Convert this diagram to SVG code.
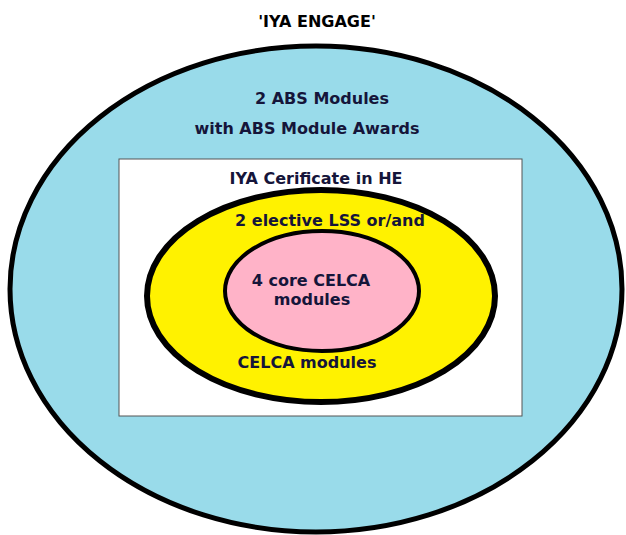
<svg xmlns="http://www.w3.org/2000/svg" width="626" height="535" viewBox="0 0 626 535">
  <style>
    .lbl { font-family: "DejaVu Sans", Verdana, sans-serif; font-weight: bold; font-size: 16px; fill: #15153a; text-anchor: middle; }
  </style>
  <rect width="626" height="535" fill="#ffffff"/>
  <text class="lbl" x="317" y="27" style="fill:#000">'IYA ENGAGE'</text>
  <g id="engage">
    <ellipse cx="316" cy="289" rx="306" ry="243" fill="#99dbea" stroke="#000" stroke-width="5"/>
    <text class="lbl" x="322" y="104">2 ABS Modules</text>
    <text class="lbl" x="307" y="134">with ABS Module Awards</text>
  </g>
  <g id="certificate">
    <rect x="119" y="159" width="403" height="257" fill="#ffffff" stroke="#555" stroke-width="1"/>
    <text class="lbl" x="316" y="184">IYA Cerificate in HE</text>
  </g>
  <g id="elective">
    <ellipse cx="321" cy="296" rx="174" ry="106" fill="#fff200" stroke="#000" stroke-width="6"/>
    <text class="lbl" x="330" y="226">2 elective LSS or/and</text>
    <text class="lbl" x="307" y="368">CELCA modules</text>
  </g>
  <g id="core">
    <ellipse cx="322" cy="291" rx="97" ry="60" fill="#ffb3c8" stroke="#000" stroke-width="4"/>
    <text class="lbl" x="311" y="286">4 core CELCA</text>
    <text class="lbl" x="312" y="305">modules</text>
  </g>
  <g id="connectors"/>
</svg>
